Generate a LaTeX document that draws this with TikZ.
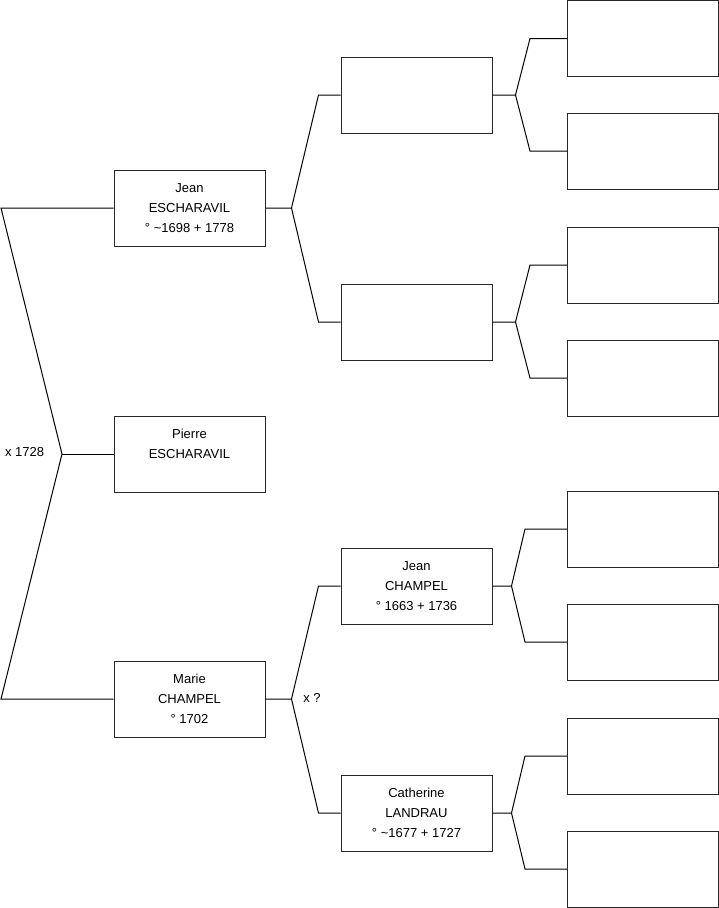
\documentclass[tikz,border=0pt]{standalone}
\usepackage{fontspec}
\setmainfont{Liberation Sans}
\usepackage{tikz}
\usetikzlibrary{positioning, calc}
\definecolor{boxgray}{RGB}{40, 40, 40}

\begin{document}
\begin{tikzpicture}[x=1pt, y=-1pt, line width=1pt, every node/.style={font=\fontsize{13}{20}\selectfont}]
    \tikzset{
        person/.style={draw=boxgray, rectangle, fill=white, minimum width=151pt, minimum height=76pt, inner sep=0pt, align=center},
        link/.style={draw=black}
    }
    \useasboundingbox (0,0) rectangle (719,908);

    % generation 1
    \node [person] (jean) at (189.5,208) {Jean\\ESCHARAVIL\\° \textasciitilde1698 + 1778};
    \node [person] (pierre) at (189.5,454) {Pierre\\ESCHARAVIL\\~};
    \node [person] (marie) at (189.5,699) {Marie\\CHAMPEL\\° 1702};

    % generation 2
    \node [person] (gpa) at (416.5,95) {};
    \node [person] (gma) at (416.5,322) {};
    \node [person] (jeanc) at (416.5,586) {Jean\\CHAMPEL\\° 1663 + 1736};
    \node [person] (cath) at (416.5,813) {Catherine\\LANDRAU\\° \textasciitilde1677 + 1727};

    % generation 3
    \node [person] (ggp1) at (643,38.5) {};
    \node [person] (ggp2) at (643,151) {};
    \node [person] (ggp3) at (643,265) {};
    \node [person] (ggp4) at (643,378) {};
    \node [person] (ggp5) at (643,529) {};
    \node [person] (ggp6) at (643,642) {};
    \node [person] (ggp7) at (643,756) {};
    \node [person] (ggp8) at (643,869) {};

    % parents of Pierre
    \coordinate (ltop) at (1,208);
    \coordinate (lmid) at (62,454);
    \coordinate (lbot) at (1,699);
    \draw [link] (jean.west) -- (ltop) -- (lmid) -- (lbot) -- (marie.west);
    \draw [link] (lmid) -- (pierre.west);
    \node [anchor=east] (mar1) at (lmid) [xshift=-14pt, yshift=2pt] {x 1728};

    % second generation forks
    \coordinate (jfork) at ($(jean.east)+(26,0)$);
    \draw [link] (jean.east) -- (jfork) -- ([xshift=-22pt]gpa.west) -- (gpa.west);
    \draw [link] (jfork) -- ([xshift=-22pt]gma.west) -- (gma.west);
    \coordinate (mfork) at ($(marie.east)+(26,0)$);
    \draw [link] (marie.east) -- (mfork) -- ([xshift=-22pt]jeanc.west) -- (jeanc.west);
    \draw [link] (mfork) -- ([xshift=-22pt]cath.west) -- (cath.west);
    \node [right=8pt of mfork, yshift=1pt] (mar2) {x ?};

    % third generation forks
    \coordinate (f1) at ($(gpa.east)+(23,0)$);
    \draw [link] (gpa.east) -- (f1) -- ([xshift=-37pt]ggp1.west) -- (ggp1.west);
    \draw [link] (f1) -- ([xshift=-37pt]ggp2.west) -- (ggp2.west);
    \coordinate (f2) at ($(gma.east)+(23,0)$);
    \draw [link] (gma.east) -- (f2) -- ([xshift=-37pt]ggp3.west) -- (ggp3.west);
    \draw [link] (f2) -- ([xshift=-37pt]ggp4.west) -- (ggp4.west);
    \coordinate (f3) at ($(jeanc.east)+(19,0)$);
    \draw [link] (jeanc.east) -- (f3) -- ([xshift=-42pt]ggp5.west) -- (ggp5.west);
    \draw [link] (f3) -- ([xshift=-42pt]ggp6.west) -- (ggp6.west);
    \coordinate (f4) at ($(cath.east)+(19,0)$);
    \draw [link] (cath.east) -- (f4) -- ([xshift=-42pt]ggp7.west) -- (ggp7.west);
    \draw [link] (f4) -- ([xshift=-42pt]ggp8.west) -- (ggp8.west);
\end{tikzpicture}
\end{document}
